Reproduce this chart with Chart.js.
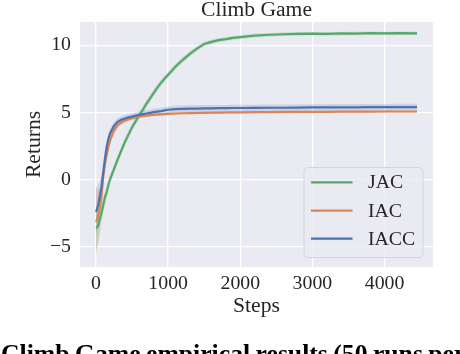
<!DOCTYPE html>
<html>
<head>
<meta charset="utf-8">
<script src="https://cdn.jsdelivr.net/npm/chart.js@4.4.1/dist/chart.umd.min.js"></script>
<style>
html,body{margin:0;padding:0;width:460px;height:354px;overflow:hidden;background:#fff;}
#wrap{position:relative;width:460px;height:354px;}
#cap{position:absolute;left:1px;top:341px;font-family:"Liberation Serif",serif;font-weight:bold;font-size:25.7px;line-height:1;white-space:nowrap;color:#000;word-spacing:-1px;}
</style>
</head>
<body>
<div id="wrap">
<canvas id="c" width="460" height="354"></canvas>
<div id="cap">Climb Game empirical results (50 runs per</div>
</div>
<script>
const chartTitle = "Climb Game";
const xTitle = "Steps";
const yTitle = "Returns";
const seriesNames = ["JAC", "IAC", "IACC"];
const steps = [0,25,50,75,100,125,150,175,200,250,300,350,400,450,500,550,600,650,700,750,800,850,900,950,1000,1100,1200,1300,1400,1500,1600,1700,1800,1900,2000,2200,2400,2600,2800,3000,3200,3400,3600,3800,4000,4200,4450];
const jac  = [-3.6,-3.5,-3.0,-2.5,-1.9,-1.3,-0.9,-0.3,0.1,0.8,1.5,2.15,2.8,3.35,3.9,4.35,4.8,5.2,5.65,6.05,6.45,6.85,7.2,7.5,7.8,8.4,8.9,9.35,9.75,10.1,10.25,10.38,10.45,10.55,10.6,10.72,10.78,10.82,10.85,10.86,10.84,10.88,10.87,10.9,10.88,10.9,10.89];
const iac  = [-3.15,-2.8,-2.2,-1.3,0.2,1.2,1.9,2.5,3.0,3.65,4.05,4.25,4.4,4.5,4.58,4.65,4.7,4.74,4.77,4.8,4.82,4.84,4.86,4.88,4.9,4.92,4.94,4.95,4.96,4.97,4.98,4.99,5.0,5.0,5.01,5.02,5.03,5.04,5.04,5.05,5.05,5.06,5.06,5.06,5.07,5.07,5.07];
const iacc = [-2.4,-2.0,-1.3,-0.6,0.5,1.6,2.5,3.1,3.5,4.0,4.3,4.45,4.55,4.63,4.7,4.76,4.82,4.87,4.92,4.97,5.02,5.06,5.1,5.15,5.2,5.24,5.26,5.28,5.29,5.3,5.31,5.32,5.32,5.33,5.33,5.34,5.35,5.35,5.36,5.37,5.37,5.38,5.38,5.39,5.39,5.4,5.4];
const jacSpread  = [1.7,1.4,1.1,0.8,0.6,0.5,0.45,0.4,0.35,0.3,0.3,0.3,0.3,0.3,0.3,0.3,0.3,0.28,0.28,0.26,0.26,0.25,0.25,0.24,0.24,0.22,0.22,0.2,0.2,0.18,0.18,0.16,0.16,0.15,0.15,0.15,0.14,0.14,0.14,0.13,0.13,0.13,0.13,0.13,0.13,0.13,0.13];
const iacSpread  = [2.5,2.0,1.5,1.0,0.7,0.5,0.4,0.35,0.3,0.25,0.2,0.18,0.16,0.15,0.14,0.13,0.12,0.12,0.12,0.11,0.11,0.11,0.1,0.1,0.1,0.1,0.1,0.1,0.1,0.1,0.1,0.1,0.1,0.1,0.1,0.1,0.1,0.1,0.1,0.1,0.1,0.1,0.1,0.1,0.1,0.1,0.1];
const iaccSpread = [1.8,1.5,1.2,0.9,0.7,0.55,0.45,0.4,0.35,0.3,0.28,0.27,0.26,0.26,0.25,0.25,0.25,0.25,0.25,0.25,0.25,0.25,0.25,0.25,0.25,0.25,0.25,0.25,0.25,0.25,0.24,0.24,0.24,0.24,0.24,0.24,0.24,0.24,0.24,0.24,0.24,0.24,0.24,0.24,0.24,0.24,0.24];
const xTicks = [0,1000,2000,3000,4000];
const yTicks = [-5,0,5,10];

const colors = ["#55A868", "#DD8452", "#4C72B0"];
const bandColors = ["rgba(85,168,104,0.2)", "rgba(221,132,82,0.2)", "rgba(76,114,176,0.2)"];
const means = [jac, iac, iacc];
const spreads = [jacSpread, iacSpread, iaccSpread];

const serif = "'Liberation Serif', 'Times New Roman', serif";
const txt = "#262626";

const datasets = [];
means.forEach((m, i) => {
  const up = steps.map((s, k) => ({x: s, y: m[k] + spreads[i][k]}));
  const lo = steps.map((s, k) => ({x: s, y: m[k] - spreads[i][k]}));
  datasets.push({label: "_lo" + i, data: lo, borderWidth: 0, pointRadius: 0, fill: false, order: 10 + i, borderColor: "rgba(0,0,0,0)"});
  datasets.push({label: "_up" + i, data: up, borderWidth: 0, pointRadius: 0, fill: "-1", backgroundColor: bandColors[i], order: 10 + i, borderColor: "rgba(0,0,0,0)"});
});
means.forEach((m, i) => {
  datasets.push({label: seriesNames[i], data: steps.map((s, k) => ({x: s, y: m[k]})), borderColor: colors[i], borderWidth: 2.2, pointRadius: 0, fill: false, order: 3 - i, tension: 0});
});

const bgPlugin = {
  id: "bg",
  beforeDraw(chart) {
    const {ctx, chartArea: a} = chart;
    ctx.save();
    ctx.fillStyle = "#EAEAF2";
    ctx.fillRect(a.left, a.top, a.right - a.left, a.bottom - a.top);
    ctx.restore();
  }
};

const legendPlugin = {
  id: "customLegend",
  afterDraw(chart) {
    const ctx = chart.ctx;
    ctx.save();
    const x0 = 304, y0 = 167.5, w = 119, h = 90, r = 4;
    ctx.beginPath();
    ctx.roundRect(x0, y0, w, h, r);
    ctx.fillStyle = "rgba(234,234,242,0.8)";
    ctx.fill();
    ctx.strokeStyle = "#D4D4DA";
    ctx.lineWidth = 1;
    ctx.stroke();
    const ys = [182.3, 210.7, 238.7];
    ctx.font = "19.8px " + serif;
    ctx.textBaseline = "middle";
    ctx.textAlign = "left";
    seriesNames.forEach((n, i) => {
      ctx.beginPath();
      ctx.moveTo(311, ys[i]);
      ctx.lineTo(352.5, ys[i]);
      ctx.strokeStyle = colors[i];
      ctx.lineWidth = 2.2;
      ctx.stroke();
      ctx.fillStyle = txt;
      ctx.fillText(n, 368, ys[i] + 1);
    });
    ctx.restore();
  }
};

new Chart(document.getElementById("c"), {
  type: "line",
  data: {datasets},
  options: {
    responsive: false,
    animation: false,
    layout: {padding: {left: 0, right: 27, top: 0, bottom: 35}},
    plugins: {
      legend: {display: false},
      tooltip: {enabled: false},
      title: {display: true, text: chartTitle, color: txt, fullSize: false, font: {family: serif, size: 21.6, weight: "normal", lineHeight: 1.0}, padding: {top: 0, bottom: 0.4}},
      filler: {propagate: false}
    },
    scales: {
      x: {
        type: "linear", min: -222, max: 4672,
        afterFit: s => { s.height = 52; },
        afterBuildTicks: s => { s.ticks = xTicks.map(v => ({value: v})); },
        ticks: {includeBounds: false, padding: 5, color: txt, font: {family: serif, size: 19.8}, maxRotation: 0, callback: v => String(v)},
        grid: {color: "#FFFFFF", lineWidth: 1.3, drawTicks: false},
        border: {display: false},
        title: {display: true, text: xTitle, color: txt, font: {family: serif, size: 21.6}, padding: {top: 0, bottom: 0}}
      },
      y: {
        type: "linear", min: -6.5, max: 11.73,
        afterFit: s => { s.width = 80; },
        afterBuildTicks: s => { s.ticks = yTicks.map(v => ({value: v})); },
        ticks: {includeBounds: false, padding: 9, color: txt, font: {family: serif, size: 19.8}, callback: v => v < 0 ? "\u2212" + Math.abs(v) : String(v)},
        grid: {color: "#FFFFFF", lineWidth: 1.3, drawTicks: false},
        border: {display: false},
        title: {display: true, text: yTitle, color: txt, font: {family: serif, size: 21.6}, padding: {top: 21, bottom: 0}}
      }
    }
  },
  plugins: [bgPlugin, legendPlugin]
});
</script>
</body>
</html>
